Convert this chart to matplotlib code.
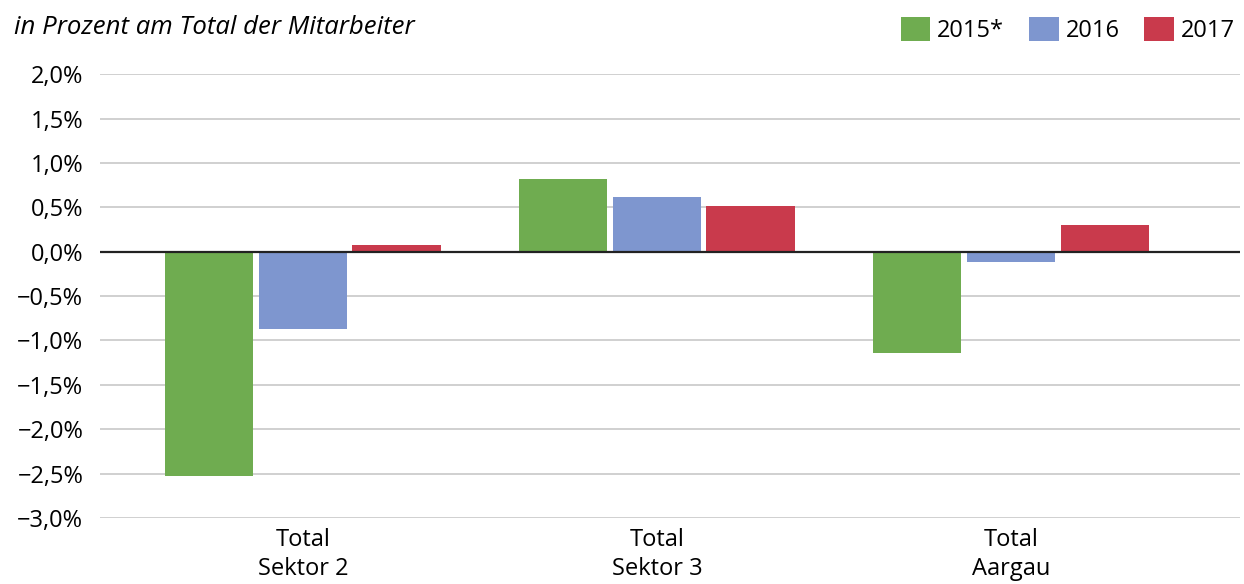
import numpy as np
import matplotlib.pyplot as plt
from matplotlib.ticker import FuncFormatter

plt.rcParams['font.family'] = ['Open Sans', 'DejaVu Sans']

# Veränderung in Prozent am Total der Mitarbeiter
kategorien = ['Total\nSektor 2', 'Total\nSektor 3', 'Total\nAargau']
jahre = ['2015*', '2016', '2017']
werte_2015 = [-2.53, 0.82, -1.14]
werte_2016 = [-0.87, 0.62, -0.12]
werte_2017 = [0.08, 0.52, 0.30]
farben = ['#6fac50', '#7e96cf', '#c93a4c']

fig = plt.figure(figsize=(12.44, 5.84), dpi=100)
ax = fig.add_axes([0.0804, 0.113, 0.9164, 0.760])

x = np.arange(len(kategorien))
breite = 0.25
versatz = 0.265
for i, (werte, farbe, jahr) in enumerate(zip([werte_2015, werte_2016, werte_2017], farben, jahre)):
    ax.bar(x + (i - 1) * versatz, werte, width=breite, color=farbe, label=jahr, zorder=3)

ax.set_ylim(-3.0, 2.0)
ax.set_xlim(-0.573, 2.647)
ax.set_yticks(np.arange(-3.0, 2.01, 0.5))
ax.yaxis.set_major_formatter(FuncFormatter(
    lambda v, p: f'{v:.1f}%'.replace('.', ',').replace('-', '\u2212')))
ax.grid(axis='y', color='#c8c8c8', linewidth=1.2, zorder=0)
ax.axhline(0, color='#222222', linewidth=1.6, zorder=4)

ax.set_xticks(x)
ax.set_xticklabels(kategorien, fontsize=17, linespacing=1.3)
ax.tick_params(axis='x', length=0, pad=7)
ax.tick_params(axis='y', length=0, pad=12, labelsize=17)
for s in ax.spines.values():
    s.set_visible(False)

fig.text(0.011, 0.953, 'in Prozent am Total der Mitarbeiter', fontsize=18.5,
         style='italic', va='center', ha='left')

ax.legend(loc='center right', bbox_to_anchor=(1.004, 1.099), ncol=3, frameon=False,
          fontsize=17, handlelength=1.25, handleheight=1.2, handletextpad=0.3,
          columnspacing=1.05, borderaxespad=0)

fig.savefig('out.png', dpi=100, facecolor='white')
